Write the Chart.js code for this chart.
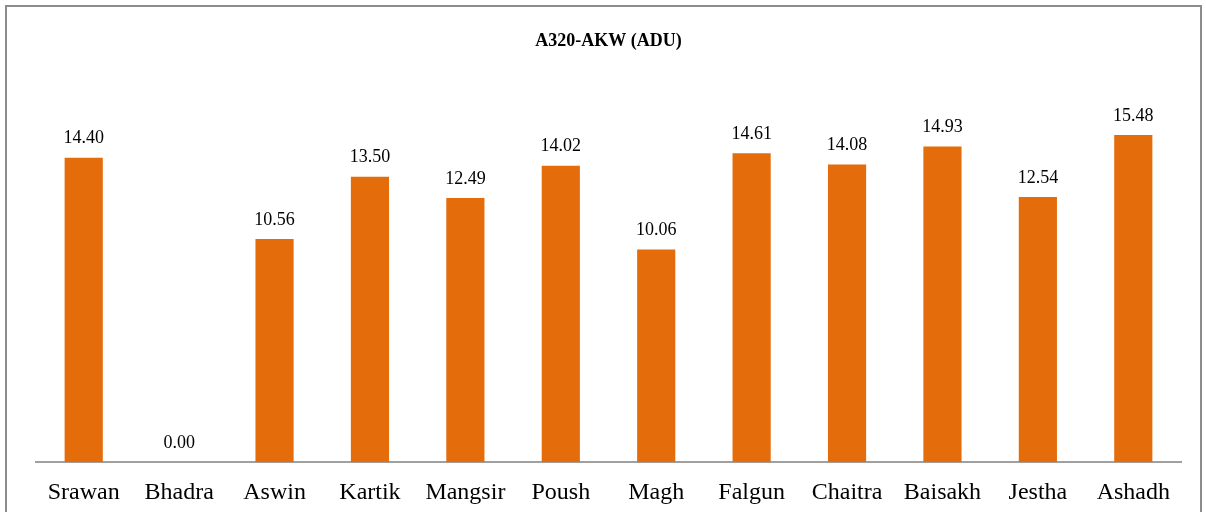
<!DOCTYPE html>
<html>
<head>
<meta charset="utf-8">
<script src="https://cdn.jsdelivr.net/npm/chart.js@4"></script>
<style>
  html, body { margin: 0; padding: 0; background: #fff; }
  #wrap { position: relative; width: 1206px; height: 512px; overflow: hidden; }
  #frame { position: absolute; left: 5px; top: 5px; width: 1193px; height: 560px; border: 2px solid #8c8c8c; }
  canvas { position: absolute; left: 0; top: 0; }
</style>
</head>
<body>
<div id="wrap">
  <div id="frame"></div>
  <canvas id="grafico" width="1206" height="523"></canvas>
</div>
<script>
const meses = ['Srawan', 'Bhadra', 'Aswin', 'Kartik', 'Mangsir', 'Poush', 'Magh', 'Falgun', 'Chaitra', 'Baisakh', 'Jestha', 'Ashadh'];
const adu = [14.40, 0.00, 10.56, 13.50, 12.49, 14.02, 10.06, 14.61, 14.08, 14.93, 12.54, 15.48];

const fonte = '"Liberation Serif", "Times New Roman", serif';

// rótulos acima das barras
const rotulos = {
  id: 'rotulos',
  afterDatasetsDraw(chart) {
    const ctx = chart.ctx;
    const meta = chart.getDatasetMeta(0);
    ctx.save();
    ctx.font = '18px ' + fonte;
    ctx.fillStyle = '#000';
    ctx.textAlign = 'center';
    ctx.textBaseline = 'middle';
    meta.data.forEach((bar, i) => {
      ctx.fillText(adu[i].toFixed(2), bar.x, bar.y - 19);
    });
    ctx.restore();
  }
};

new Chart(document.getElementById('grafico'), {
  type: 'bar',
  data: {
    labels: meses,
    datasets: [{
      data: adu,
      backgroundColor: '#E46C0A',
      borderWidth: 0,
      categoryPercentage: 1,
      barPercentage: 0.4
    }]
  },
  options: {
    responsive: false,
    animation: false,
    layout: { padding: { left: 36, right: 25, top: 0, bottom: 0 } },
    plugins: {
      legend: { display: false },
      tooltip: { enabled: false },
      title: {
        display: true,
        text: 'A320-AKW (ADU)',
        color: '#000',
        font: { family: fonte, size: 18, weight: 'bold' },
        padding: { top: 31, bottom: 29 }
      }
    },
    scales: {
      x: {
        grid: { display: false, drawTicks: false },
        border: { color: '#a0a0a0', width: 2 },
        ticks: {
          color: '#000',
          padding: 16,
          font: { family: fonte, size: 24 }
        }
      },
      y: { display: false, min: 0, max: 18 }
    }
  },
  plugins: [rotulos]
});
</script>
</body>
</html>
